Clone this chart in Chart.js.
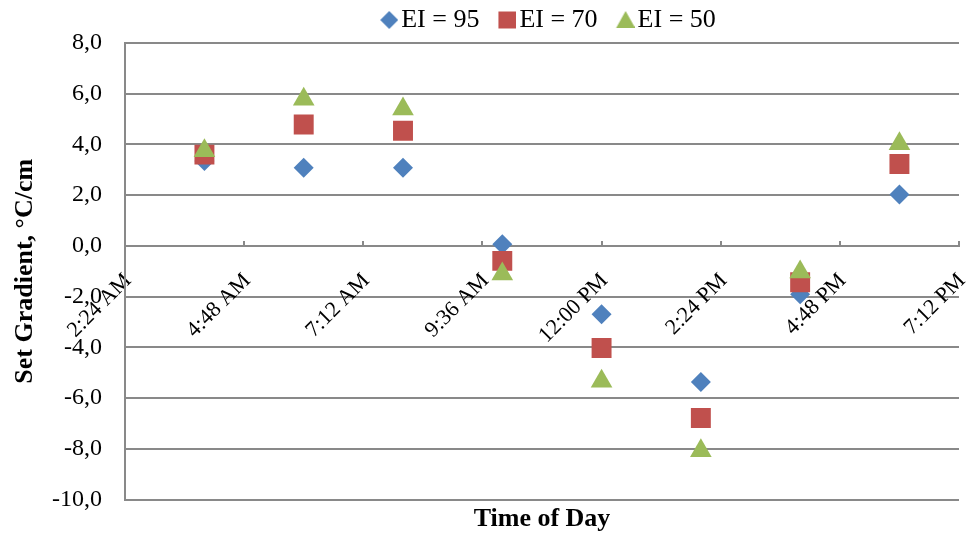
<!DOCTYPE html>
<html>
<head>
<meta charset="utf-8">
<script src="https://cdn.jsdelivr.net/npm/chart.js@4.4.0/dist/chart.umd.min.js"></script>
<style>
  html, body { margin: 0; padding: 0; background: #fff; }
</style>
</head>
<body>
<canvas id="gradChart" width="966" height="537"></canvas>
<script>
/* ---------- data ---------- */
const hours = [4, 6, 8, 10, 12, 14, 16, 18];
const xTickLabels = ['2:24 AM', '4:48 AM', '7:12 AM', '9:36 AM', '12:00 PM', '2:24 PM', '4:48 PM', '7:12 PM'];
const seriesNames = ['EI = 95', 'EI = 70', 'EI = 50'];
const ei95 = [3.35, 3.08, 3.08, 0.07, -2.69, -5.36, -1.9, 2.03];
const ei70 = [3.6, 4.79, 4.54, -0.59, -4.02, -6.78, -1.43, 3.23];
const ei50 = [3.75, 5.78, 5.4, -1.11, -5.33, -8.07, -1.03, 4.03];

const BLUE = '#4F81BD', RED = '#C0504D', GREEN = '#9BBB59';
const gridGray = '#898989';

Chart.defaults.font.family = '"Liberation Serif", "Times New Roman", serif';
Chart.defaults.color = '#000';

// legend marker drawn a bit to the right inside its image so it sits close to the text
function legendMarker(style, color) {
  const c = document.createElement('canvas');
  c.width = 40; c.height = 28;
  const g = c.getContext('2d');
  const cx = 31, cy = 14;
  g.fillStyle = color;
  g.beginPath();
  if (style === 'rectRot') {
    g.moveTo(cx, cy - 9); g.lineTo(cx + 9, cy); g.lineTo(cx, cy + 9); g.lineTo(cx - 9, cy);
  } else if (style === 'rect') {
    g.rect(cx - 9, cy - 8.5, 18, 17);
  } else {
    g.moveTo(cx, cy - 9); g.lineTo(cx + 9.5, cy + 8); g.lineTo(cx - 9.5, cy + 8);
  }
  g.closePath();
  g.fill();
  return c;
}

const toPts = vals => hours.map((h, i) => ({ x: h, y: vals[i] }));

const datasets = [
  { label: seriesNames[0], data: toPts(ei95), pointStyle: 'rectRot', pointRadius: 10, color: BLUE, order: 3 },
  { label: seriesNames[1], data: toPts(ei70), pointStyle: 'rect', pointRadius: 14.1, color: RED, order: 2 },
  { label: seriesNames[2], data: toPts(ei50), pointStyle: 'triangle', pointRadius: 12.5, color: GREEN, order: 1 }
].map(d => ({
  label: d.label,
  data: d.data,
  order: d.order,
  showLine: false,
  pointStyle: d.pointStyle,
  pointRadius: d.pointRadius,
  pointHoverRadius: d.pointRadius,
  pointBackgroundColor: d.color,
  pointBorderWidth: 0,
  backgroundColor: d.color,
  borderColor: d.color,
  xAxisID: 'x',
  yAxisID: 'y'
}));

new Chart(document.getElementById('gradChart').getContext('2d'), {
  type: 'scatter',
  data: { datasets },
  options: {
    responsive: false,
    animation: false,
    layout: { padding: { left: 0, top: 0, bottom: 0, right: 7 }, autoPadding: false },
    plugins: {
      tooltip: { enabled: false },
      legend: {
        position: 'top',
        fullSize: false,
        labels: {
          usePointStyle: true,
          pointStyleWidth: 20,
          boxHeight: 26,
          padding: 7,
          font: { size: 26 },
          color: '#000',
          generateLabels: chart => chart.data.datasets.map((ds, i) => ({
            text: ds.label,
            fillStyle: ds.pointBackgroundColor,
            strokeStyle: ds.pointBackgroundColor,
            lineWidth: 0,
            pointStyle: legendMarker(ds.pointStyle, ds.pointBackgroundColor),
            hidden: false,
            datasetIndex: i
          }))
        }
      }
    },
    scales: {
      x: {
        type: 'linear',
        position: 'bottom',
        min: 2.4,
        max: 19.2,
        ticks: { display: false, stepSize: 2.4 },
        grid: { display: false, drawTicks: false },
        border: { display: false },
        title: {
          display: true,
          text: 'Time of Day',
          font: { size: 26, weight: 'bold' },
          padding: { top: 4, bottom: 1 }
        }
      },
      x2: {
        type: 'linear',
        axis: 'x',
        position: { y: 0 },
        min: 2.4,
        max: 19.2,
        ticks: {
          stepSize: 2.4,
          autoSkip: false,
          minRotation: 45,
          maxRotation: 45,
          padding: 28,
          labelOffset: 3,
          font: { size: 22 },
          callback: (value, index) => xTickLabels[index]
        },
        grid: { display: true, drawOnChartArea: false, drawTicks: true, tickLength: -6, color: gridGray, lineWidth: 2 },
        border: { display: true, color: gridGray, width: 2 },
        afterFit: scale => { scale.paddingLeft = 0; scale.paddingRight = 0; }
      },
      y: {
        type: 'linear',
        position: 'left',
        min: -10,
        max: 8,
        ticks: {
          stepSize: 2,
          padding: 23,
          font: { size: 24 },
          callback: v => v.toFixed(1).replace('.', ',')
        },
        grid: { color: gridGray, lineWidth: 2, drawTicks: false },
        border: { display: true, color: gridGray, width: 2 },
        title: {
          display: true,
          text: 'Set Gradient, °C/cm',
          font: { size: 26, weight: 'bold' },
          padding: { top: 10, bottom: 0 }
        },
        afterFit: scale => { scale.width = 125; }
      }
    }
  }
});
</script>
</body>
</html>
